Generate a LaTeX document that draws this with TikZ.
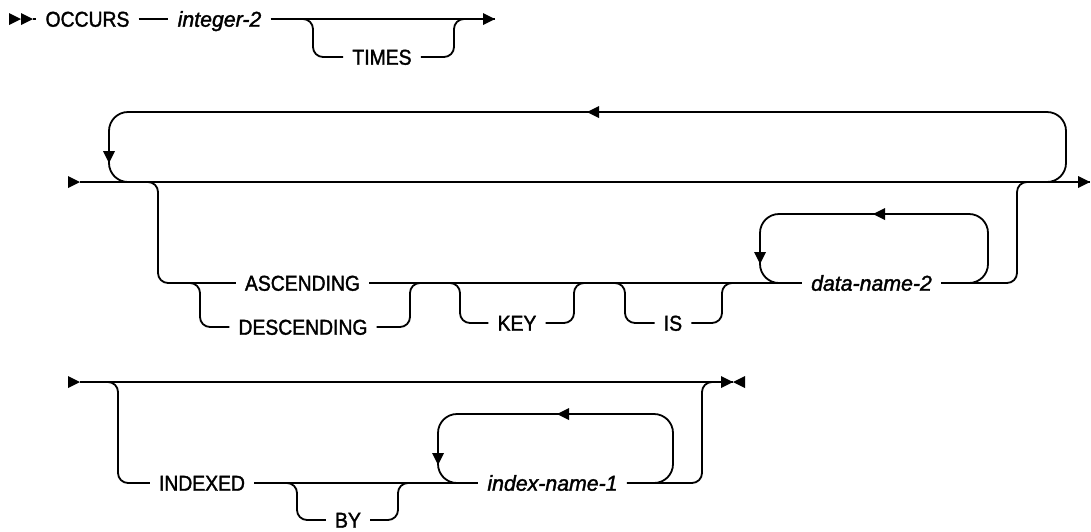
\documentclass[tikz,border=0pt]{standalone}
\usepackage{fontspec}
\setmainfont{Liberation Sans}[UprightFeatures={FakeStretch=0.9,FakeBold=1.6},ItalicFeatures={FakeStretch=0.99,FakeBold=1.6}]
\begin{document}
\begin{tikzpicture}[x=1pt,y=-1pt,
  line/.style={line width=1.8pt, rounded corners=10pt},
  loopline/.style={line width=1.8pt, rounded corners=19pt},
  kw/.style={font=\fontsize{21.5}{24}\selectfont, text height=15.4pt, text depth=0pt, inner xsep=9pt, inner ysep=0pt},
  var/.style={kw, font=\fontsize{21.5}{24}\selectfont\itshape},
  tri/.pic={\fill (0,0) -- (-12,-6) -- (-12,6) -- cycle;}
]
\useasboundingbox (0,0) rectangle (1091,531);

% ---------- row 1 ----------
\node[kw]  (occurs) at (87.5,19) {OCCURS};
\node[var] (int2)   at (219.5,19) {integer-2};
\node[kw]  (times)  at (382,57) {TIMES};
\coordinate (r1s) at (33,19);
\coordinate (r1e) at (495,19);
\coordinate (tA) at (293,19);
\coordinate (tB) at (474,19);
\pic at (21,19) {tri};
\pic at (33,19) {tri};
\draw[line] (r1s) -- (occurs.west);
\draw[line] (occurs) -- (int2);
\draw[line] (int2.east) -- (r1e);
\pic at (r1e) {tri};
\draw[line] (tA) -- ++(20,0) |- (times.west);
\draw[line] (tB) -- ++(-20,0) |- (times.east);

% ---------- row 2 ----------
\node[kw]  (asc)  at (302.5,283) {ASCENDING};
\node[kw]  (desc) at (303,327) {DESCENDING};
\node[kw]  (key)  at (517,323) {KEY};
\node[kw]  (is)   at (673,323) {IS};
\node[var] (dn2)  at (871.5,283) {data-name-2};
\coordinate (s2) at (80,182);
\coordinate (e2) at (1090,182);
\pic at (s2) {tri};
\draw[line] (s2) -- (e2);
\pic at (e2) {tri};
% repeat loop
\coordinate (lpR) at (1047,182);
\coordinate (lpL) at (128,182);
\draw[loopline] (lpR) -- (1066,182) -- (1066,112) -- (109,112) -- (109,182) -- (lpL);
\pic[rotate=180] at (587,112) {tri};
\pic[rotate=-90] at (109,163) {tri};
% optional branch
\coordinate (bA) at (138,182);
\coordinate (bB) at (1037,182);
\draw[line] (bA) -- ++(20,0) |- (asc.west);
\draw[line] (asc.east) -- (dn2.west);
\draw[line] (bB) -- ++(-20,0) |- (dn2.east);
% descending
\coordinate (dA) at (180,283);
\coordinate (dB) at (430,283);
\draw[line] (dA) -- ++(20,0) |- (desc.west);
\draw[line] (dB) -- ++(-20,0) |- (desc.east);
% key
\coordinate (kA) at (440,283);
\coordinate (kB) at (594,283);
\draw[line] (kA) -- ++(20,0) |- (key.west);
\draw[line] (kB) -- ++(-20,0) |- (key.east);
% is
\coordinate (iA) at (605,283);
\coordinate (iB) at (742,283);
\draw[line] (iA) -- ++(20,0) |- (is.west);
\draw[line] (iB) -- ++(-20,0) |- (is.east);
% data-name loop
\coordinate (dlL) at (780,283);
\coordinate (dlR) at (968,283);
\draw[loopline] (dlR) -- (988,283) -- (988,214) -- (760,214) -- (760,283) -- (dlL);
\pic[rotate=180] at (873,214) {tri};
\pic[rotate=-90] at (760,264) {tri};

% ---------- row 3 ----------
\node[kw]  (idx) at (202,483) {INDEXED};
\node[kw]  (by)  at (348,520) {BY};
\node[var] (in1) at (552.5,483) {index-name-1};
\coordinate (s3) at (80,382);
\coordinate (e3) at (733,382);
\pic at (s3) {tri};
\draw[line] (s3) -- (e3);
\pic at (e3) {tri};
\pic[rotate=180] at (e3) {tri};
\coordinate (xA) at (98,382);
\coordinate (xB) at (722,382);
\draw[line] (xA) -- ++(20,0) |- (idx.west);
\draw[line] (idx.east) -- (in1.west);
\draw[line] (xB) -- ++(-20,0) |- (in1.east);
% by
\coordinate (yA) at (277,483);
\coordinate (yB) at (418,483);
\draw[line] (yA) -- ++(20,0) |- (by.west);
\draw[line] (yB) -- ++(-20,0) |- (by.east);
% index-name loop
\coordinate (ilL) at (457,483);
\coordinate (ilR) at (654,483);
\draw[loopline] (ilR) -- (673,483) -- (673,414) -- (438,414) -- (438,483) -- (ilL);
\pic[rotate=180] at (557,414) {tri};
\pic[rotate=-90] at (438,465) {tri};
\end{tikzpicture}
\end{document}
